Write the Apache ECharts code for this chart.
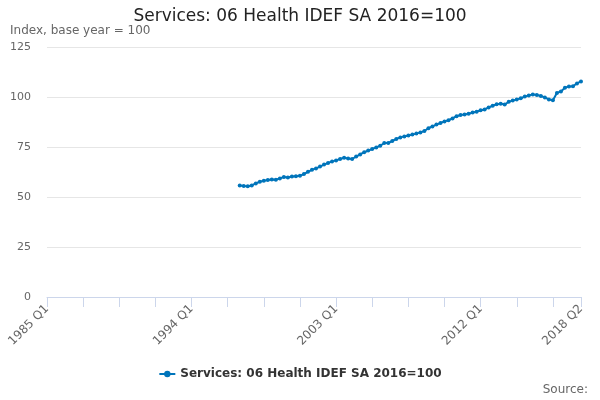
<!DOCTYPE html>
<html>
<head>
<meta charset="utf-8">
<script src="https://cdn.jsdelivr.net/npm/echarts@6/dist/echarts.min.js"></script>
<style>
  html, body { margin: 0; padding: 0; background: #fff; }
  #chart { width: 600px; height: 400px; }
</style>
</head>
<body>
<div id="chart"></div>
<script>
// quarters 1985 Q1 .. 2018 Q2
var firstYear = 1985;
var categories = [];
for (var y = firstYear; y <= 2018; y++) {
    for (var q = 1; q <= 4; q++) {
        if (y === 2018 && q > 2) break;
        categories.push(y + ' Q' + q);
    }
}

var seriesName = 'Services: 06 Health IDEF SA 2016=100';

// values from 1997 Q1 to 2018 Q2
var healthValues = [
    55.7, 55.5, 55.4, 55.8,   // 1997
    56.8, 57.6, 58.1, 58.5,   // 1998
    58.8, 58.6, 59.3, 60.0,   // 1999
    59.8, 60.2, 60.4, 60.6,   // 2000
    61.5, 62.6, 63.6, 64.3,   // 2001
    65.2, 66.2, 67.0, 67.8,   // 2002
    68.3, 69.0, 69.6, 69.2,   // 2003
    69.0, 70.2, 71.3, 72.4,   // 2004
    73.2, 74.0, 74.8, 75.6,   // 2005
    77.0, 77.0, 78.0, 79.0,   // 2006
    79.8, 80.3, 80.7, 81.2,   // 2007
    81.7, 82.3, 83.0, 84.4,   // 2008
    85.3, 86.2, 87.0, 87.8,   // 2009
    88.4, 89.3, 90.4, 91.0,   // 2010
    91.2, 91.6, 92.2, 92.6,   // 2011
    93.4, 93.8, 94.8, 95.6,   // 2012
    96.4, 96.6, 96.2, 97.6,   // 2013
    98.2, 98.8, 99.4, 100.2,  // 2014
    100.8, 101.3, 101.0, 100.5, // 2015
    99.8, 98.8, 98.4, 102.0,  // 2016
    102.8, 104.6, 105.3, 105.4, // 2017
    106.8, 107.8              // 2018
];

// pad the years with no data
var startIndex = categories.indexOf('1997 Q1');
var seriesData = [];
for (var i = 0; i < categories.length; i++) {
    var v = i - startIndex;
    seriesData.push(v >= 0 && v < healthValues.length ? healthValues[v] : '-');
}

var lastIndex = categories.length - 1;

var myChart = echarts.init(document.getElementById('chart'));

var option = {
    animation: false,
    textStyle: { fontFamily: 'DejaVu Sans' },
    title: [
        {
            text: seriesName,
            left: 'center',
            top: 8,
            padding: 0,
            textStyle: { fontSize: 17, fontWeight: 'normal', color: '#222' }
        },
        {
            text: 'Index, base year = 100',
            left: 10,
            top: 25,
            padding: 0,
            textStyle: { fontSize: 12, fontWeight: 'normal', color: '#666' }
        },
        {
            text: 'Source:',
            right: 12,
            top: 384,
            padding: 0,
            textStyle: { fontSize: 12, fontWeight: 'normal', color: '#666' }
        }
    ],
    legend: {
        bottom: 15,
        left: 'center',
        itemWidth: 16,
        itemHeight: 8,
        textStyle: { fontSize: 12, fontWeight: 'bold', color: '#333' },
        data: [seriesName]
    },
    grid: {
        left: 47,
        right: 19,
        top: 47,
        bottom: 103
    },
    xAxis: {
        type: 'category',
        boundaryGap: false,
        data: categories,
        axisLine: { lineStyle: { color: '#ccd6eb' } },
        axisTick: {
            length: 10,
            lineStyle: { color: '#ccd6eb' },
            interval: function (idx) { return idx % 9 === 0 || idx === lastIndex; }
        },
        axisLabel: {
            rotate: 45,
            color: '#666',
            fontSize: 12,
            margin: 10,
            interval: function (idx) { return idx % 36 === 0 || idx === lastIndex; }
        }
    },
    yAxis: {
        type: 'value',
        min: 0,
        max: 125,
        interval: 25,
        axisLine: { show: false },
        axisTick: { show: false },
        axisLabel: { color: '#666', fontSize: 11, margin: 16 },
        splitLine: { lineStyle: { color: '#e6e6e6' } }
    },
    series: [
        {
            name: seriesName,
            type: 'line',
            data: seriesData,
            symbol: 'circle',
            symbolSize: 4,
            showAllSymbol: true,
            connectNulls: false,
            lineStyle: { color: '#0075bb', width: 2 },
            itemStyle: { color: '#0075bb' }
        }
    ]
};

myChart.setOption(option);
</script>
</body>
</html>
